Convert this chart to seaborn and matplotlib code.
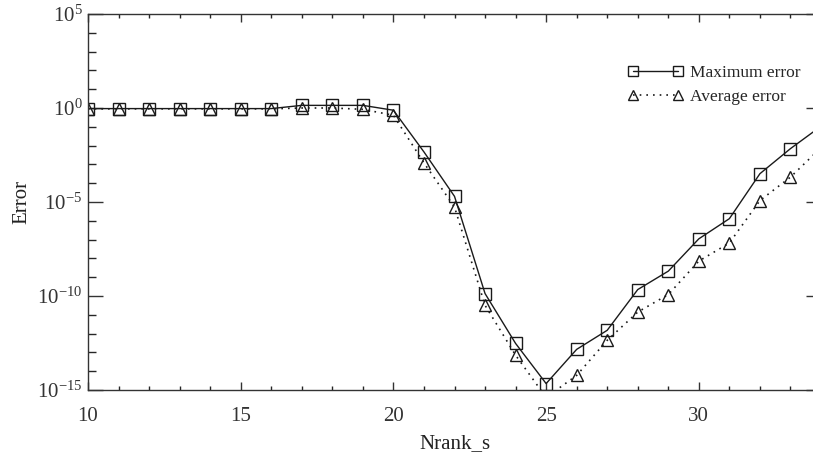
import numpy as np
import pandas as pd
import matplotlib
matplotlib.use('Agg')
import matplotlib.pyplot as plt
import seaborn as sns
from matplotlib.ticker import FixedLocator, FuncFormatter, NullFormatter

# values (x = Nrank_s)
nrank = list(range(10, 35))
max_error = [0.93, 0.93, 0.93, 0.93, 0.93, 0.93, 0.93, 1.38, 1.38, 1.38, 0.76,
             4.6e-3, 2.0e-5, 1.35e-10, 3.0e-13, 2.2e-15, 1.45e-13, 1.5e-12,
             2.2e-10, 2.1e-9, 1.1e-7, 1.3e-6, 3.2e-4, 6.9e-3, 0.107]
avg_error = [0.9, 0.9, 0.9, 0.9, 0.9, 0.9, 0.9, 1.0, 1.0, 0.85, 0.41,
             1.2e-3, 5.4e-6, 3.2e-11, 7.1e-14, 4.0e-16, 6.0e-15, 4.4e-13,
             1.4e-11, 1.2e-10, 7.2e-9, 6.6e-8, 1.2e-5, 2.1e-4, 7.8e-3]

df = pd.DataFrame({'Nrank_s': nrank, 'max': max_error, 'avg': avg_error})

sns.set_theme(style='ticks')
plt.rcParams['font.family'] = ['Liberation Serif', 'DejaVu Serif']
plt.rcParams['mathtext.fontset'] = 'custom'
plt.rcParams['mathtext.rm'] = 'Liberation Serif'

fig = plt.figure(figsize=(8.13, 4.55), dpi=100)
ax = fig.add_axes([88 / 813, 1 - 390 / 455, (821 - 88) / 813, (390 - 14) / 455])

sns.lineplot(data=df, x='Nrank_s', y='max', ax=ax, color='k', lw=1,
             marker='s', markersize=8.5, markerfacecolor='none',
             markeredgecolor='k', markeredgewidth=1, label='Maximum error')
sns.lineplot(data=df, x='Nrank_s', y='avg', ax=ax, color='k', lw=1.2,
             linestyle=(0, (1, 3)), marker='^', markersize=8.5,
             markerfacecolor='none', markeredgecolor='k', markeredgewidth=1,
             label='Average error')

ax.set_yscale('log')
ax.set_xlim(10, 34)
ax.set_ylim(1e-15, 1e5)

ax.xaxis.set_major_locator(FixedLocator([10, 15, 20, 25, 30]))
ax.xaxis.set_minor_locator(FixedLocator(list(range(10, 35))))
ax.yaxis.set_major_locator(FixedLocator([1e-15, 1e-10, 1e-5, 1e0, 1e5]))
ax.yaxis.set_minor_locator(FixedLocator([10.0 ** k for k in range(-15, 6)]))
ax.yaxis.set_major_formatter(FuncFormatter(
    lambda v, p: r'$\mathdefault{10^{%d}}$' % round(np.log10(v))))
ax.yaxis.set_minor_formatter(NullFormatter())
ax.xaxis.set_minor_formatter(NullFormatter())

ax.tick_params(axis='x', which='major', direction='in', length=6, width=1,
               top=True, labelsize=15, pad=12, colors='#333333')
ax.tick_params(axis='x', which='minor', direction='in', length=3, width=1,
               top=True)
ax.tick_params(axis='y', which='major', direction='in', length=11, width=1,
               right=True, labelsize=15, pad=4, colors='#333333')
ax.tick_params(axis='y', which='minor', direction='in', length=6, width=1,
               right=True)

for s in ax.spines.values():
    s.set_color('#333333')
    s.set_linewidth(1)

ax.set_xlabel('Nrank_s', fontsize=15, color='#222222', labelpad=6)
ax.set_ylabel('Error', fontsize=15, color='#222222', labelpad=4)

ax.legend(loc='center left', bbox_to_anchor=(628 / 813, 1 - 85 / 455),
          bbox_transform=fig.transFigure, frameon=False, numpoints=2,
          markerscale=0.85, handlelength=3.2, handletextpad=0.35,
          borderpad=0, borderaxespad=0, labelspacing=0.5, fontsize=12.5)

fig.savefig('out.png', dpi=100)
